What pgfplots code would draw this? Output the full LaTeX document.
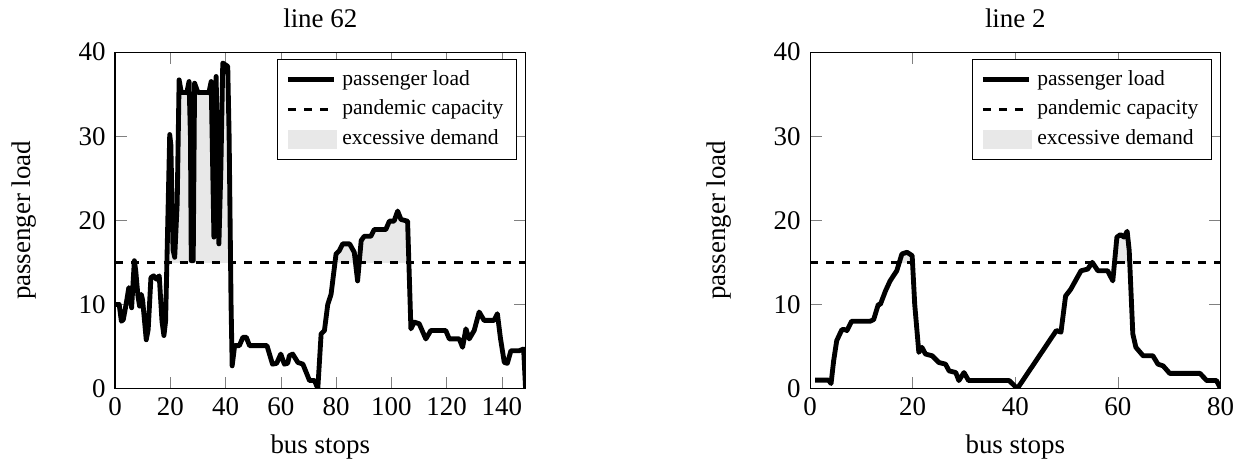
\documentclass[border=0pt]{standalone}
\usepackage{fontspec}
\setmainfont{Liberation Serif}
\usepackage{pgfplots}
\pgfplotsset{compat=1.18}

\pgfplotstableread{
x y
0 10
1.5 10
2.3 8
3 8.2
4 10
5 12
5.5 11.5
6 9.6
7 15.2
7.5 14
8.3 11
8.9 9.8
9.5 11.2
10 10.5
11.3 5.8
12 7
13 13.2
14 13.4
15 13
16 13.4
17 8
17.7 6.3
18.3 8
19.8 30.2
20.2 29
21 16.5
21.6 15.6
22.5 22
23.2 36.7
24 35.2
26 35.2
26.8 36.5
27.3 30
27.6 15.2
28.3 15.2
28.8 36.3
30 35.2
34 35.2
34.8 36.5
35.8 18
36.6 37.1
37.6 17.2
38.3 26
39 38.7
40.8 38.3
41.3 30
42 10
42.4 2.7
43.3 5.1
45 5.1
46.3 6.1
47.5 6.1
48.7 5.1
55 5.1
57 2.9
58.5 3
60 4.1
61.3 2.9
62.5 3
63.1 3.9
64.3 4.1
66.2 3.1
68 2.9
70.4 0.95
72.2 0.95
73.4 0
74.6 6.5
75.8 6.9
77 10
78.2 11.2
80 16
81.2 16.4
82.4 17.2
84.9 17.2
86.6 16.2
87.8 12.8
89.1 17.6
90.2 18.1
92.6 18.1
93.8 18.9
98 18.9
99.3 19.9
101 19.9
102.3 21.1
103.5 20.1
105.9 19.9
107.1 7.1
108.3 7.9
110.1 7.7
112.5 5.9
114.3 6.9
119.7 6.9
121 5.9
124.6 5.9
125.8 4.9
127 7.1
128.2 5.9
130 6.9
131.8 9.1
133.6 8.1
137.2 8.1
138.4 8.9
139.5 6
140.9 3.1
142 3
143.3 4.5
146.3 4.5
147.9 4.7
148.6 0
}\linesixtytwo

\pgfplotstableread{
x y
1 1
3.6 1
4.1 0.6
4.6 3.3
5.2 5.7
6.2 7
6.8 7
7.2 6.9
8.1 8
11.7 8
12.4 8.2
13.3 10
13.7 10
14.7 11.6
15.6 12.8
16.9 14
17.9 16
18.9 16.2
19.9 15.8
20.4 10
21.2 4.3
21.8 4.9
22.5 4.1
23.8 3.9
25.1 3.1
26.4 2.9
27.1 2.1
28.4 1.9
29 0.95
30 1.9
30.9 0.95
38.8 0.95
40.4 0
48 6.9
48.9 6.7
49.8 11
50.8 11.8
52.8 14
54.1 14.2
55 15
56.1 14
58 14
59 12.8
59.8 18
60.5 18.3
61.2 18
61.8 18.7
62.2 16.4
62.9 6.5
63.5 4.9
64.9 3.9
66.8 3.9
67.8 2.9
68.8 2.7
70.1 1.8
76 1.8
77.3 0.95
79.2 0.95
80 0
}\linetwo

\pgfplotsset{busplot/.style={
    scale only axis,
    width=152.4pt, height=124.9pt,
    xmin=0, ymin=0, ymax=40,
    ytick={0,10,20,30,40},
    xlabel={bus stops},
    ylabel={passenger load},
    xlabel style={at={(axis description cs:0.5,-0.175)}, anchor=center},
    ylabel style={at={(axis description cs:-0.222,0.5)}, anchor=center},
    every axis title shift=0pt,
    title style={at={(axis description cs:0.5,1.1)}, anchor=center},
    legend style={font=\footnotesize},
    legend cell align=left,
    /pgf/number format/assume math mode=true,
}}
\pgfplotsset{loadline/.style={black, line width=1.8pt, line join=round}}
\pgfplotsset{capline/.style={black, dashed, line width=1.3pt}}
\pgfplotsset{excess/.style={fill=black!9, draw=none,
    legend image code/.code={\fill[black!9] (0cm,-0.125cm) rectangle (0.64cm,0.125cm);}}}

\begin{document}
\begin{tikzpicture}

\begin{axis}[busplot, title={line 62}, xmax=148.6,
    xtick={0,20,40,60,80,100,120,140}]
\begin{scope}
\clip (axis cs:0,15) rectangle (axis cs:150,40);
\addplot[excess, forget plot] table {\linesixtytwo} \closedcycle;
\end{scope}
\addplot[loadline] table {\linesixtytwo};
\addlegendentry{passenger load}
\addplot[capline] coordinates {(0,15) (148.6,15)};
\addlegendentry{pandemic capacity}
\addlegendimage{excess}
\addlegendentry{excessive demand}
\end{axis}

\begin{axis}[busplot, at={(258pt,0pt)}, title={line 2}, xmax=80,
    xtick={0,20,40,60,80}]
\begin{scope}
\clip (axis cs:0,15) rectangle (axis cs:81,40);
\addplot[excess, forget plot] table {\linetwo} \closedcycle;
\end{scope}
\addplot[loadline] table {\linetwo};
\addlegendentry{passenger load}
\addplot[capline] coordinates {(0,15) (80,15)};
\addlegendentry{pandemic capacity}
\addlegendimage{excess}
\addlegendentry{excessive demand}
\end{axis}

\path (-42.7pt,-28.5pt) rectangle (417.7pt,143.7pt);
\end{tikzpicture}
\end{document}
